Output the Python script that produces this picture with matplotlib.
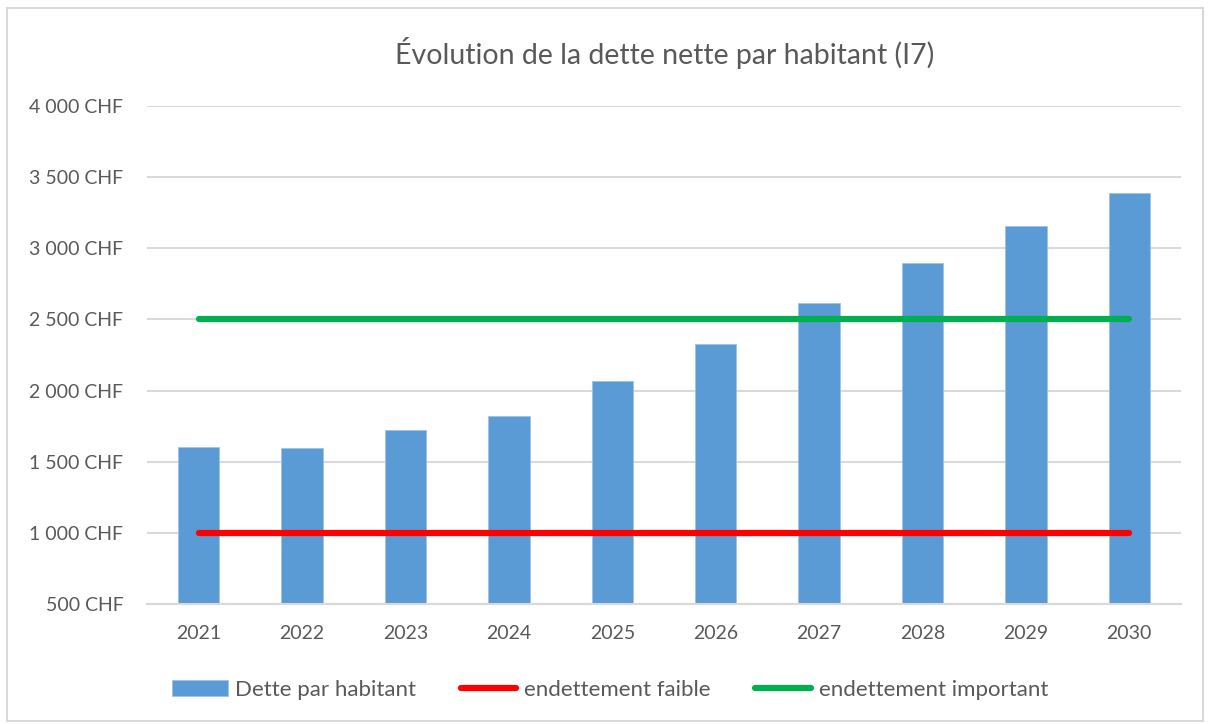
import matplotlib.pyplot as plt
from matplotlib.patches import Rectangle
from matplotlib.ticker import FuncFormatter

annees = ["2021", "2022", "2023", "2024", "2025", "2026", "2027", "2028", "2029", "2030"]
dette = [1605, 1595, 1720, 1820, 2066, 2325, 2617, 2894, 3158, 3392]
seuil_faible = [1000] * len(annees)
seuil_important = [2500] * len(annees)

gris = "#595959"
plt.rcParams["font.family"] = ["Lato", "DejaVu Sans"]

fig = plt.figure(figsize=(12.08, 7.24), dpi=100)
ax = fig.add_axes([0.1217, 0.1657, 0.8559, 0.6879])

x = range(len(annees))
barres = ax.bar(x, dette, width=0.4, color="#5B9BD5", edgecolor="#9DC3E6", linewidth=0.6,
                label="Dette par habitant", zorder=2)
l1, = ax.plot(x, seuil_faible, color="#FF0000", lw=4.5, solid_capstyle="round",
              label="endettement faible", zorder=3)
l2, = ax.plot(x, seuil_important, color="#00B050", lw=4.5, solid_capstyle="round",
              label="endettement important", zorder=3)

ax.set_xlim(-0.5, len(annees) - 0.5)
ax.set_ylim(500, 4000)
ax.set_yticks(range(500, 4001, 500))
ax.yaxis.set_major_formatter(FuncFormatter(lambda v, p: f"{int(v):,}".replace(",", " ") + " CHF"))
ax.set_xticks(list(x))
ax.set_xticklabels(annees)
ax.grid(axis="y", color="#D9D9D9", lw=1.5, zorder=0)
for s in ["top", "right", "left"]:
    ax.spines[s].set_visible(False)
ax.spines["bottom"].set_color("#D9D9D9")
ax.spines["bottom"].set_linewidth(1.5)
ax.tick_params(axis="y", length=0, pad=17, labelsize=14, labelcolor=gris)
ax.tick_params(axis="x", length=0, pad=15, labelsize=14, labelcolor=gris)

fig.text(0.55, 0.927, "Évolution de la dette nette par habitant (I7)", ha="center", va="center",
         fontsize=20.5, color=gris)

fig.legend([barres, l1, l2], ["Dette par habitant", "endettement faible", "endettement important"],
           loc="center", bbox_to_anchor=(0.505, 0.047), ncol=3, frameon=False,
           fontsize=16, labelcolor=gris, handlelength=2.5, handleheight=0.7,
           columnspacing=2.0, handletextpad=0.35)

fig.patches.append(Rectangle((0.006, 0.004), 0.99, 0.985, transform=fig.transFigure,
                             fill=False, edgecolor="#D9D9D9", lw=1.5))

fig.savefig("out.png", dpi=100)
